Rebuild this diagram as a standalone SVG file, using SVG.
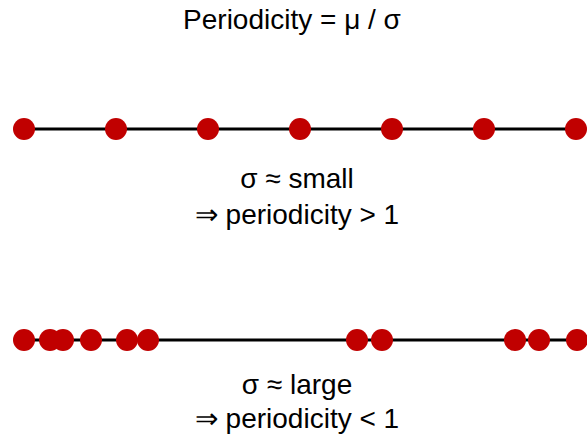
<svg xmlns="http://www.w3.org/2000/svg" width="587" height="440" viewBox="0 0 587 440">
<style>
text{font-family:"Liberation Sans",Arial,sans-serif;font-size:28px;fill:#000;text-anchor:middle}
.ln{stroke:#000;stroke-width:3}
.dot{fill:#c00000}
</style>
<rect width="587" height="440" fill="#fff"/>
<text x="292" y="29">Periodicity = μ / σ</text>
<g id="row-small">
<line class="ln" x1="24" y1="129" x2="576" y2="129"/>
<circle class="dot" cx="24" cy="129" r="11"/>
<circle class="dot" cx="116" cy="129" r="11"/>
<circle class="dot" cx="208" cy="129" r="11"/>
<circle class="dot" cx="300" cy="129" r="11"/>
<circle class="dot" cx="392" cy="129" r="11"/>
<circle class="dot" cx="484" cy="129" r="11"/>
<circle class="dot" cx="576" cy="129" r="11"/>
</g>
<text x="297" y="188">σ ≈ small</text>
<text x="297" y="224">⇒ periodicity &gt; 1</text>
<g id="row-large">
<line class="ln" x1="14" y1="340" x2="587" y2="340"/>
<circle class="dot" cx="24" cy="340" r="11"/>
<circle class="dot" cx="50" cy="340" r="11"/>
<circle class="dot" cx="63" cy="340" r="11"/>
<circle class="dot" cx="91" cy="340" r="11"/>
<circle class="dot" cx="127" cy="340" r="11"/>
<circle class="dot" cx="148" cy="340" r="11"/>
<circle class="dot" cx="357" cy="340" r="11"/>
<circle class="dot" cx="382" cy="340" r="11"/>
<circle class="dot" cx="515" cy="340" r="11"/>
<circle class="dot" cx="539" cy="340" r="11"/>
<circle class="dot" cx="577" cy="340" r="11"/>
</g>
<text x="297" y="394">σ ≈ large</text>
<text x="297" y="428">⇒ periodicity &lt; 1</text>
</svg>
